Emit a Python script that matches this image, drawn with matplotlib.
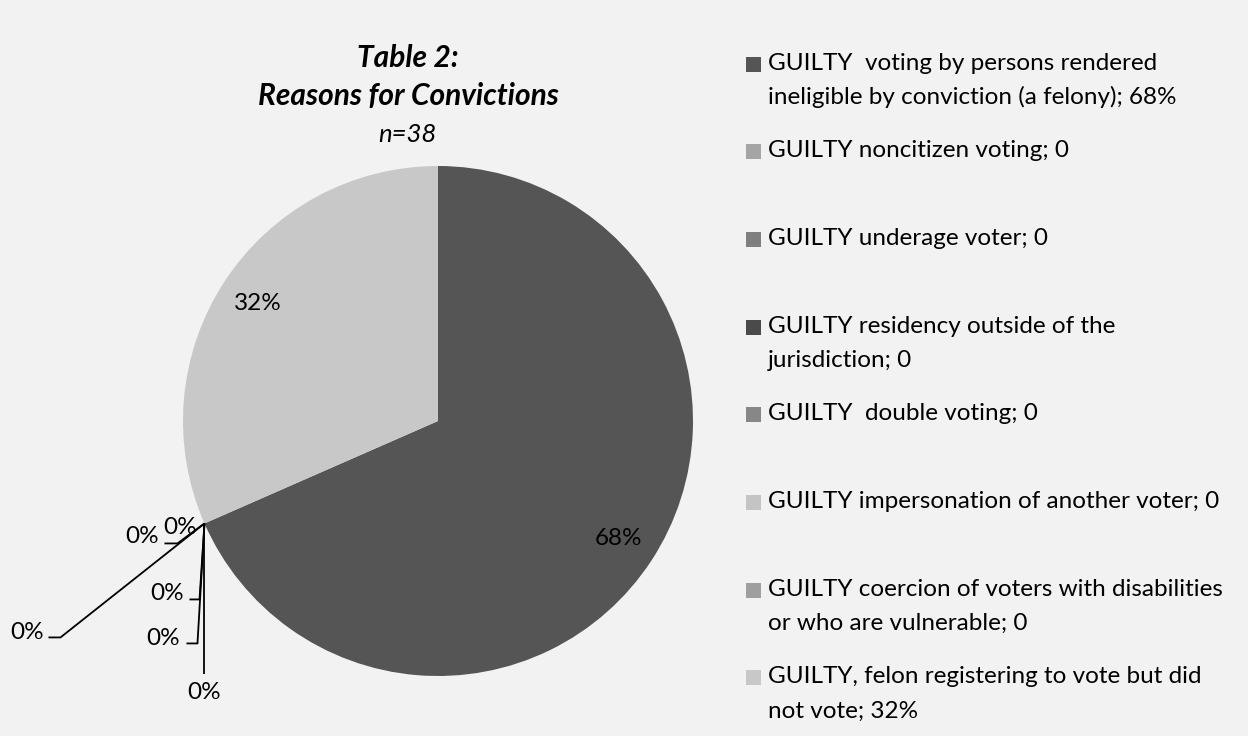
import numpy as np
import matplotlib.pyplot as plt
from matplotlib.patches import Rectangle

plt.rcParams['font.family'] = ['Lato', 'DejaVu Sans']

# data
reasons = [
    "GUILTY  voting by persons rendered\nineligible by conviction (a felony)",
    "GUILTY noncitizen voting",
    "GUILTY underage voter",
    "GUILTY residency outside of the\njurisdiction",
    "GUILTY  double voting",
    "GUILTY impersonation of another voter",
    "GUILTY coercion of voters with disabilities\nor who are vulnerable",
    "GUILTY, felon registering to vote but did\nnot vote",
]
counts = [26, 0, 0, 0, 0, 0, 0, 12]
legend_values = ["68%", "0", "0", "0", "0", "0", "0", "32%"]
colors = ["#555555", "#a5a5a5", "#7f7f7f", "#4a4a4a",
          "#878787", "#c4c4c4", "#9f9f9f", "#c8c8c8"]

W, H = 1248, 736
fig = plt.figure(figsize=(W / 100, H / 100), dpi=100, facecolor="#f2f2f2")
ax = fig.add_axes([0, 0, 1, 1])
ax.set_facecolor("#f2f2f2")

cx, cy, r = 438, H - 421, 255
wedges, _ = ax.pie(counts, colors=colors, startangle=90, counterclock=False,
                   center=(cx, cy), radius=r, wedgeprops=dict(linewidth=0))
ax.set_xlim(0, W)
ax.set_ylim(0, H)
ax.set_aspect("equal")
ax.axis("off")

total = sum(counts)
fs = 17.5

# leader layouts for zero slices: (elbow dx, elbow dy, end dx, text dx, text dy), image px, y down
zero_layout = [
    None,
    (-27, 20, -40, -62, 13),
    (-144, 114, -156, -177, 109),
    (-5, 76, -15, -37, 70),
    (-7, 120, -18, -41, 115),
    (0, 151, 0, 0, 169),
]
zero_plain = (-24, 4)
zi = 0
for w, c in zip(wedges, counts):
    pct = f"{round(100 * c / total)}%"
    if c > 0:
        mid = np.deg2rad((w.theta1 + w.theta2) / 2)
        ax.text(cx + 0.845 * r * np.cos(mid), cy + 0.845 * r * np.sin(mid), pct,
                ha="center", va="center", fontsize=fs, color="black")
        continue
    th = np.deg2rad(w.theta1)
    ex, ey = cx + r * np.cos(th), cy + r * np.sin(th)
    lay = zero_layout[zi]
    if lay is None:
        ax.text(ex + zero_plain[0], ey - zero_plain[1], pct, ha="center", va="center",
                fontsize=fs, color="black")
    else:
        edx, edy, endx, tdx, tdy = lay
        ax.plot([ex, ex + edx, ex + endx], [ey, ey - edy, ey - edy], color="black", lw=1.3,
                solid_capstyle="butt")
        ax.text(ex + tdx, ey - tdy, pct, ha="center", va="center", fontsize=fs, color="black")
    zi += 1

# title
ax.text(408, H - 58, "Table 2:", ha="center", va="center", fontsize=21.5,
        fontweight="bold", fontstyle="italic")
ax.text(408, H - 96, "Reasons for Convictions", ha="center", va="center", fontsize=21.5,
        fontweight="bold", fontstyle="italic")
ax.text(407, H - 134, "n=38", ha="center", va="center", fontsize=18.5, fontstyle="italic")

# legend
for i, (name, val, col) in enumerate(zip(reasons, legend_values, colors)):
    y0 = 63 + i * 87.7
    ax.add_patch(Rectangle((746, H - y0 - 1 - 7.5), 15, 15, facecolor=col, edgecolor="none"))
    lines = f"{name}; {val}".split("\n")
    for k, line in enumerate(lines):
        ax.text(768, H - (y0 + k * 34), line, ha="left", va="center", fontsize=fs,
                color="black")

fig.savefig("out.png", dpi=100, facecolor=fig.get_facecolor())
